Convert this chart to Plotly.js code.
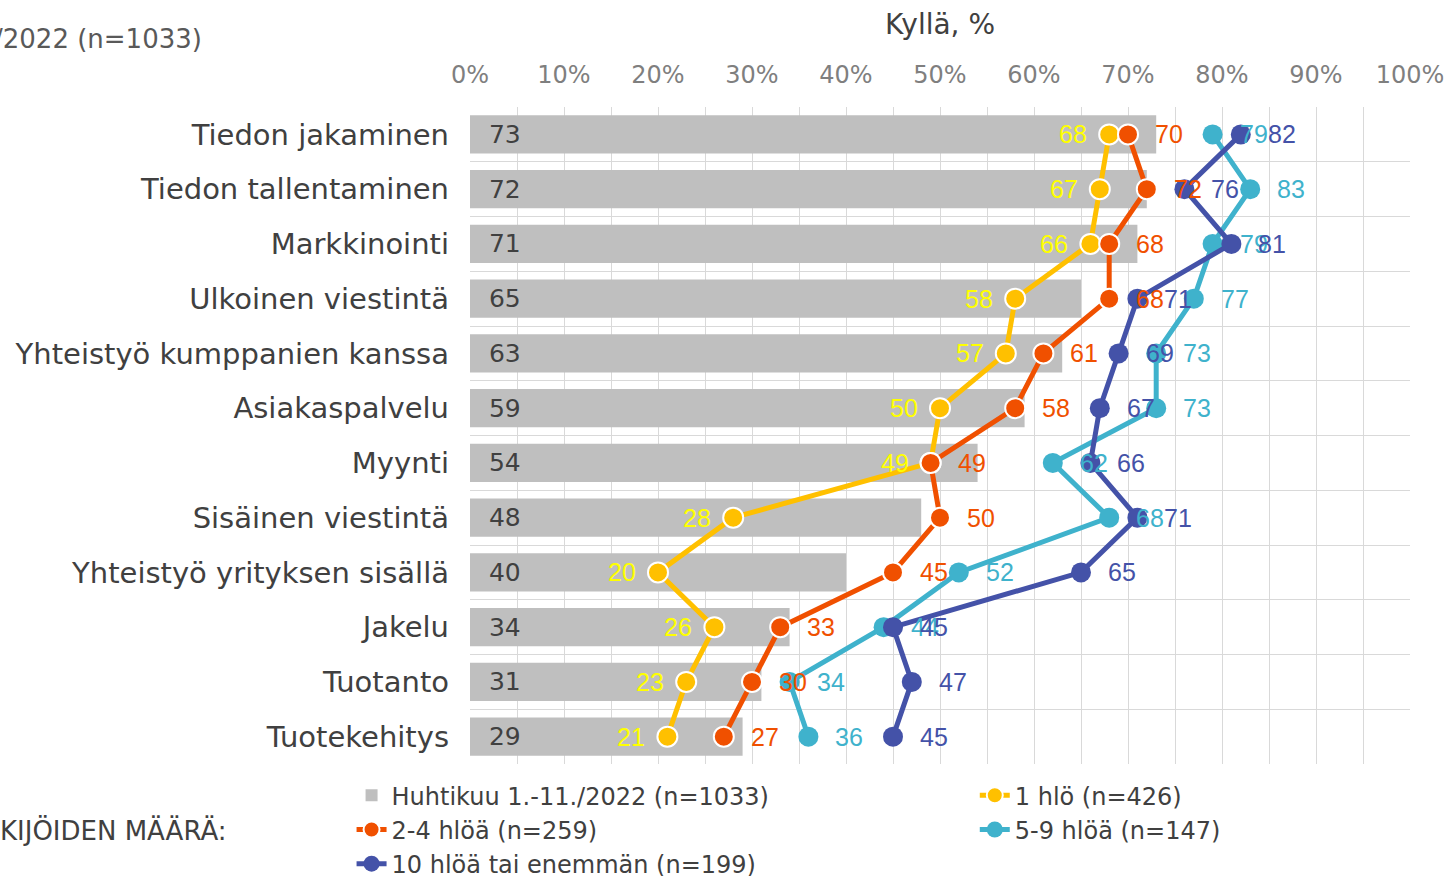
<!DOCTYPE html>
<html><head><meta charset="utf-8">
<script src="https://cdn.plot.ly/plotly-3.0.1.min.js"></script>
<style>html,body{margin:0;padding:0;background:#fff}#chart{width:1447px;height:876px}</style>
</head><body><div id="chart"></div>
<script>
const categories = ["Tiedon jakaminen","Tiedon tallentaminen","Markkinointi","Ulkoinen viestintä","Yhteistyö kumppanien kanssa","Asiakaspalvelu","Myynti","Sisäinen viestintä","Yhteistyö yrityksen sisällä","Jakelu","Tuotanto","Tuotekehitys"];
const totalValues   = [73,72,71,65,63,59,54,48,40,34,31,29];
const oneValues     = [68,67,66,58,57,50,49,28,20,26,23,21];
const twoFourValues = [70,72,68,68,61,58,49,50,45,33,30,27];
const fiveNineValues= [79,83,79,77,73,73,62,68,52,44,34,36];
const tenPlusValues = [82,76,81,71,69,67,66,71,65,45,47,45];
const seriesNames = ["Huhtikuu 1.-11./2022 (n=1033)","1 hlö (n=426)","2-4 hlöä (n=259)","5-9 hlöä (n=147)","10 hlöä tai enemmän (n=199)"];
const tickVals = [0,10,20,30,40,50,60,70,80,90,100];
const tickText = tickVals.map(v => v + "%");
const topLeftText = "/2022 (n=1033)";
const legendLeftText = "KIJÖIDEN MÄÄRÄ:";
const axisTitle = "Kyllä, %";

const lineColors = ["#FFC000","#F05000","#3FB2CC","#4452A8"];
const labelColors = ["#FFFF00","#F05000","#3FB2CC","#4452A8"];
const lineSeries = [oneValues, twoFourValues, fiveNineValues, tenPlusValues];
const outlines = [true, true, false, false];
const legendOf = ["legend2", "legend", "legend2", "legend"];

const traces = [{
  type: "bar", orientation: "h", y: categories, x: totalValues,
  name: seriesNames[0], marker: {color: "#BFBFBF"}, width: 0.7, legend: "legend",
  text: totalValues.map(v => "\u00a0\u00a0" + v), textposition: "inside", insidetextanchor: "start",
  textfont: {family: "DejaVu Sans", size: 25, color: "#404040"}, hoverinfo: "x+y"
}];
lineSeries.forEach((vals, i) => {
  traces.push({
    type: "scatter", mode: "lines+markers", y: categories, x: vals,
    name: seriesNames[i+1], legend: legendOf[i],
    line: {color: lineColors[i], width: 5},
    marker: {color: lineColors[i], size: 20, line: {color: "#FFFFFF", width: outlines[i] ? 2 : 0}}
  });
});

const annotations = [];
lineSeries.forEach((vals, i) => {
  vals.forEach((v, j) => {
    annotations.push({
      x: v, y: categories[j], xref: "x", yref: "y", text: String(v), showarrow: false,
      xanchor: i === 0 ? "right" : "left", xshift: i === 0 ? -20 : 25,
      font: {family: "Liberation Sans", size: 25, color: labelColors[i]}
    });
  });
});
annotations.push({xref: "paper", yref: "paper", x: -0.508, y: 1.1035, xanchor: "left", yanchor: "middle",
  text: topLeftText, showarrow: false, font: {family: "DejaVu Sans", size: 26, color: "#595959"}});
annotations.push({xref: "paper", yref: "paper", x: -0.502, y: -0.1005, xanchor: "left", yanchor: "middle",
  text: legendLeftText, showarrow: false, font: {family: "DejaVu Sans", size: 26, color: "#404040"}});

const legendFont = {family: "DejaVu Sans", size: 24, color: "#404040"};
const layout = {
  width: 1447, height: 876,
  margin: {l: 470, r: 37, t: 107, b: 112, autoexpand: false},
  paper_bgcolor: "#FFFFFF", plot_bgcolor: "#FFFFFF",
  showlegend: true,
  legend: {orientation: "v", x: -0.126, xanchor: "left", y: -0.014, yanchor: "top",
    font: legendFont, traceorder: "normal", bgcolor: "rgba(0,0,0,0)"},
  legend2: {orientation: "v", x: 0.537, xanchor: "left", y: -0.014, yanchor: "top",
    font: legendFont, traceorder: "normal", bgcolor: "rgba(0,0,0,0)"},
  xaxis: {side: "top", range: [0, 100], tickvals: tickVals, ticktext: tickText,
    tickfont: {family: "DejaVu Sans", size: 24, color: "#7F7F7F"}, ticklabelstandoff: 18,
    showgrid: true, gridcolor: "#D9D9D9", gridwidth: 1, zeroline: false, showline: false,
    minor: {dtick: 5, showgrid: true, gridcolor: "#D9D9D9", gridwidth: 1},
    title: {text: axisTitle, font: {family: "DejaVu Sans", size: 28, color: "#404040"}, standoff: 18},
    fixedrange: true},
  yaxis: {type: "category", range: [categories.length - 0.5, -0.5], tickson: "boundaries", showgrid: true,
    gridcolor: "#D9D9D9", gridwidth: 1, zeroline: false, showline: false, ticks: "",
    tickfont: {family: "DejaVu Sans", size: 29, color: "#404040"}, ticklabelstandoff: 20,
    fixedrange: true},
  annotations: annotations
};
Plotly.newPlot("chart", traces, layout, {displayModeBar: false, staticPlot: true});
</script></body></html>
